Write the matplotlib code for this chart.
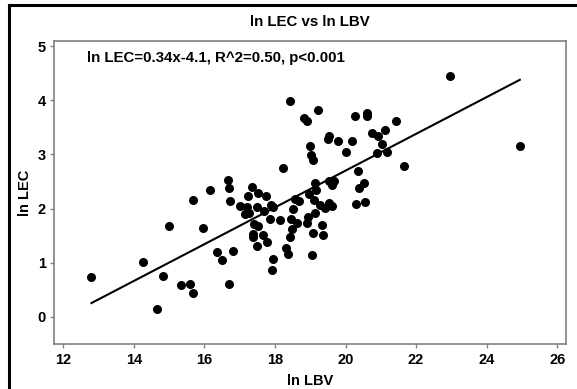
import numpy as np
import matplotlib.pyplot as plt
from matplotlib.lines import Line2D

plt.rcParams['font.family'] = ['Liberation Sans', 'DejaVu Sans']
plt.rcParams['font.weight'] = 'bold'

# log LBV / log LEC pairs
ln_lbv = [12.80, 14.25, 14.65, 14.84, 14.99, 15.35, 15.58, 15.69, 15.67, 15.95,
          16.15, 16.37, 16.49, 16.66, 16.71, 16.74, 16.71, 16.80, 17.01, 17.14,
          17.20, 17.25, 17.27, 17.36, 17.49, 17.52, 17.42, 17.52, 17.38, 17.39,
          17.49, 17.66, 17.68, 17.74, 17.77, 17.85, 17.89, 17.95, 17.94, 17.91,
          18.13, 18.22, 18.30, 18.36, 18.42, 18.45, 18.48, 18.51, 18.56, 18.62,
          18.68, 18.44, 18.82, 18.92, 18.99, 19.02, 19.08, 19.21, 18.97, 19.04,
          18.94, 18.90, 19.08, 19.14, 19.14, 19.16, 19.10,
          22.96, 20.26, 20.62, 20.62, 21.44, 20.74, 20.91, 21.11, 21.03, 20.88,
          21.19, 21.65, 24.94, 19.52, 19.49, 19.78, 20.17, 20.01, 20.35, 19.53,
          19.67, 19.63, 20.52, 20.38, 19.27, 19.43, 19.53, 19.62, 19.32, 19.35,
          20.29, 20.55, 15.65]
ln_lec = [0.73, 1.01, 0.14, 0.75, 1.68, 0.59, 0.60, 0.44, 2.16, 1.64,
          2.34, 1.20, 1.05, 2.53, 2.38, 2.14, 0.60, 1.21, 2.05, 1.90,
          2.02, 2.24, 1.91, 2.39, 2.02, 2.29, 1.72, 1.67, 1.47, 1.52,
          1.31, 1.51, 1.96, 2.23, 1.38, 1.81, 2.06, 2.03, 1.06, 0.86,
          1.79, 2.74, 1.27, 1.16, 1.47, 1.81, 1.62, 2.00, 2.18, 1.73,
          2.13, 3.98, 3.68, 3.62, 3.16, 2.99, 2.90, 3.83, 2.27, 1.14,
          1.84, 1.73, 1.54, 1.92, 2.48, 2.35, 2.16,
          4.45, 3.71, 3.77, 3.71, 3.62, 3.39, 3.34, 3.45, 3.19, 3.03,
          3.05, 2.79, 3.16, 3.34, 3.28, 3.24, 3.24, 3.05, 2.70, 2.51,
          2.51, 2.43, 2.47, 2.38, 2.07, 2.01, 2.11, 2.05, 1.69, 1.51,
          2.08, 2.12, -0.60]

slope = 0.34
intercept = -4.1
fit_label = 'ln LEC=0.34x-4.1, R^2=0.50, p<0.001'

fig = plt.figure(figsize=(5.77, 3.89), dpi=100)
ax = fig.add_axes([0.094, 0.115, 0.887, 0.78])

ax.scatter(ln_lbv, ln_lec, s=30, color='black', zorder=3)

# fitted line over the observed LBV range
x = np.array(ln_lbv)
xs = np.array([x.min(), x.max()])
ax.plot(xs, slope * xs + intercept, color='black', lw=1.5)

ax.set_xlim(11.745, 26.25)
ax.set_ylim(-0.51, 5.1)
ax.set_xticks(np.arange(12, 27, 2))
ax.set_yticks(np.arange(0, 6, 1))

for sp in ax.spines.values():
    sp.set_color('#808080')
    sp.set_linewidth(1.2)
ax.tick_params(labelcolor='black', color='#808080', length=3, width=1.0,
               labelsize=10.5, pad=3)

ax.set_title('ln LEC vs ln LBV', fontsize=10.8, fontweight='bold', pad=11)
ax.set_xlabel('ln LBV', fontsize=10.5, fontweight='bold', labelpad=5)
ax.set_ylabel('ln LEC', fontsize=10.5, fontweight='bold', labelpad=4)
ax.text(0.064, 0.942, fit_label, transform=ax.transAxes,
        fontsize=10.8, fontweight='bold', va='center', ha='left')

# outer frame lines (left and top)
fig.add_artist(Line2D([9 / 577, 9 / 577], [0, 1 - 5 / 389], color='black',
                      lw=2.2, transform=fig.transFigure))
fig.add_artist(Line2D([9 / 577, 1], [1 - 5 / 389, 1 - 5 / 389], color='black',
                      lw=2.2, transform=fig.transFigure))

fig.savefig('out.png', dpi=100)
